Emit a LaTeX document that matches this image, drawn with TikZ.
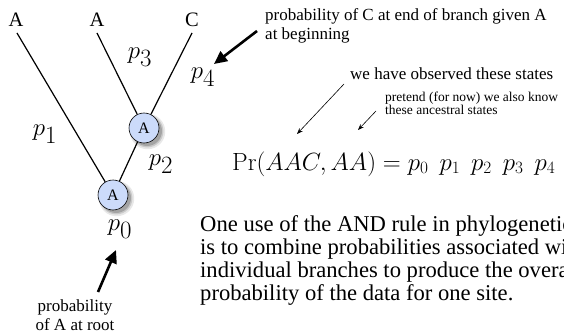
\documentclass[tikz,border=0pt]{standalone}
\usepackage[no-math]{fontspec}
\setmainfont{Liberation Serif}
\usetikzlibrary{arrows.meta, positioning, shadows}
\definecolor{NodeBlue}{rgb}{0.80, 0.86, 0.98}

\begin{document}
\begin{tikzpicture}[x=1pt, y=-1pt,
    tiplab/.style={font=\fontsize{20.5}{22}\selectfont, inner sep=0pt, anchor=base},
    anc/.style={circle, draw=black, line width=0.6pt, fill=NodeBlue, minimum size=30pt,
        inner sep=0pt, font=\fontsize{16}{16}\selectfont,
        drop shadow={opacity=0.18, shadow scale=1.18, shadow xshift=3pt, shadow yshift=-3pt},
        drop shadow={opacity=0.3, shadow scale=1.08, shadow xshift=3pt, shadow yshift=-3pt},
        drop shadow={opacity=0.5, shadow scale=1.0, shadow xshift=3pt, shadow yshift=-3pt}},
    branch/.style={line width=1.2pt},
    brlab/.style={font=\fontsize{36}{36}\selectfont, inner sep=0pt},
    note/.style={font=\fontsize{17}{19}\selectfont, inner sep=0pt, align=left, anchor=north west},
    tiny/.style={font=\fontsize{13.5}{13}\selectfont, inner sep=0pt, align=left, anchor=north west},
    bigarrow/.style={line width=2.6pt, -{Triangle[length=13pt, width=12pt]}},
    thinarrow/.style={line width=0.6pt, -{Stealth[length=6pt, width=4.5pt]}}
]
\clip (0,0) rectangle (564,334);

% arbol
\node[tiplab] (a1) at (16,27) {A};
\node[tiplab] (a2) at (97,27) {A};
\node[tiplab] (c3) at (192,27) {C};
\coordinate (t1) at (17,33);
\coordinate (t2) at (97,33);
\coordinate (t3) at (192,33);
\node[anc] (inner) at (144,128) {A};
\node[anc] (root) at (113,195) {A};
\draw[branch] (t1) -- (root);
\draw[branch] (t2) -- (inner);
\draw[branch] (t3) -- (inner);
\draw[branch] (inner) -- (root);

% etiquetas de ramas
\node[brlab] (p1) at (45,134) {$p_1$};
\node[brlab] (p2) at (161,164) {$p_2$};
\node[brlab] (p3) at (140,57) {$p_3$};
\node[brlab] (p4) at (203,77) {$p_4$};
\node[brlab] (p0) at (120,229) {$p_0$};

% notas
\node[note] (endC) at (265,8) {probability of C at end of branch given A\\at beginning};
\coordinate (endTail) at (257,31);
\coordinate (endHead) at (214,64);
\draw[bigarrow] (endTail) -- (endHead);

\node[note, align=center, anchor=north] (rootnote) at (75,300) {probability\\of A at root};
\coordinate (rootTail) at (98,292);
\coordinate (rootHead) at (116,250);
\draw[bigarrow] (rootTail) -- (rootHead);

\node[note] (obs) at (350,68) {we have observed these states};
\node[tiny] (pretend) at (385,92) {pretend (for now) we also know\\these ancestral states};
\coordinate (obsTail) at (344,84);
\coordinate (obsHead) at (297,134);
\coordinate (preTail) at (376,111);
\coordinate (preHead) at (358,130);
\draw[thinarrow] (obsTail) -- (obsHead);
\draw[thinarrow] (preTail) -- (preHead);

% ecuacion
\node[font=\fontsize{25.5}{25.5}\selectfont, inner sep=0pt, anchor=base west] (eq) at (232,170)
    {$\Pr(AAC, AA) = p_0\;\,p_1\;\,p_2\;\,p_3\;\,p_4$};

% parrafo
\node[font=\fontsize{22.6}{23}\selectfont, inner sep=0pt, align=left, anchor=north west] (para) at (200,215)
    {One use of the AND rule in phylogenetics\\
     is to combine probabilities associated with\\
     individual branches to produce the overall\\
     probability of the data for one site.};

\end{tikzpicture}
\end{document}
